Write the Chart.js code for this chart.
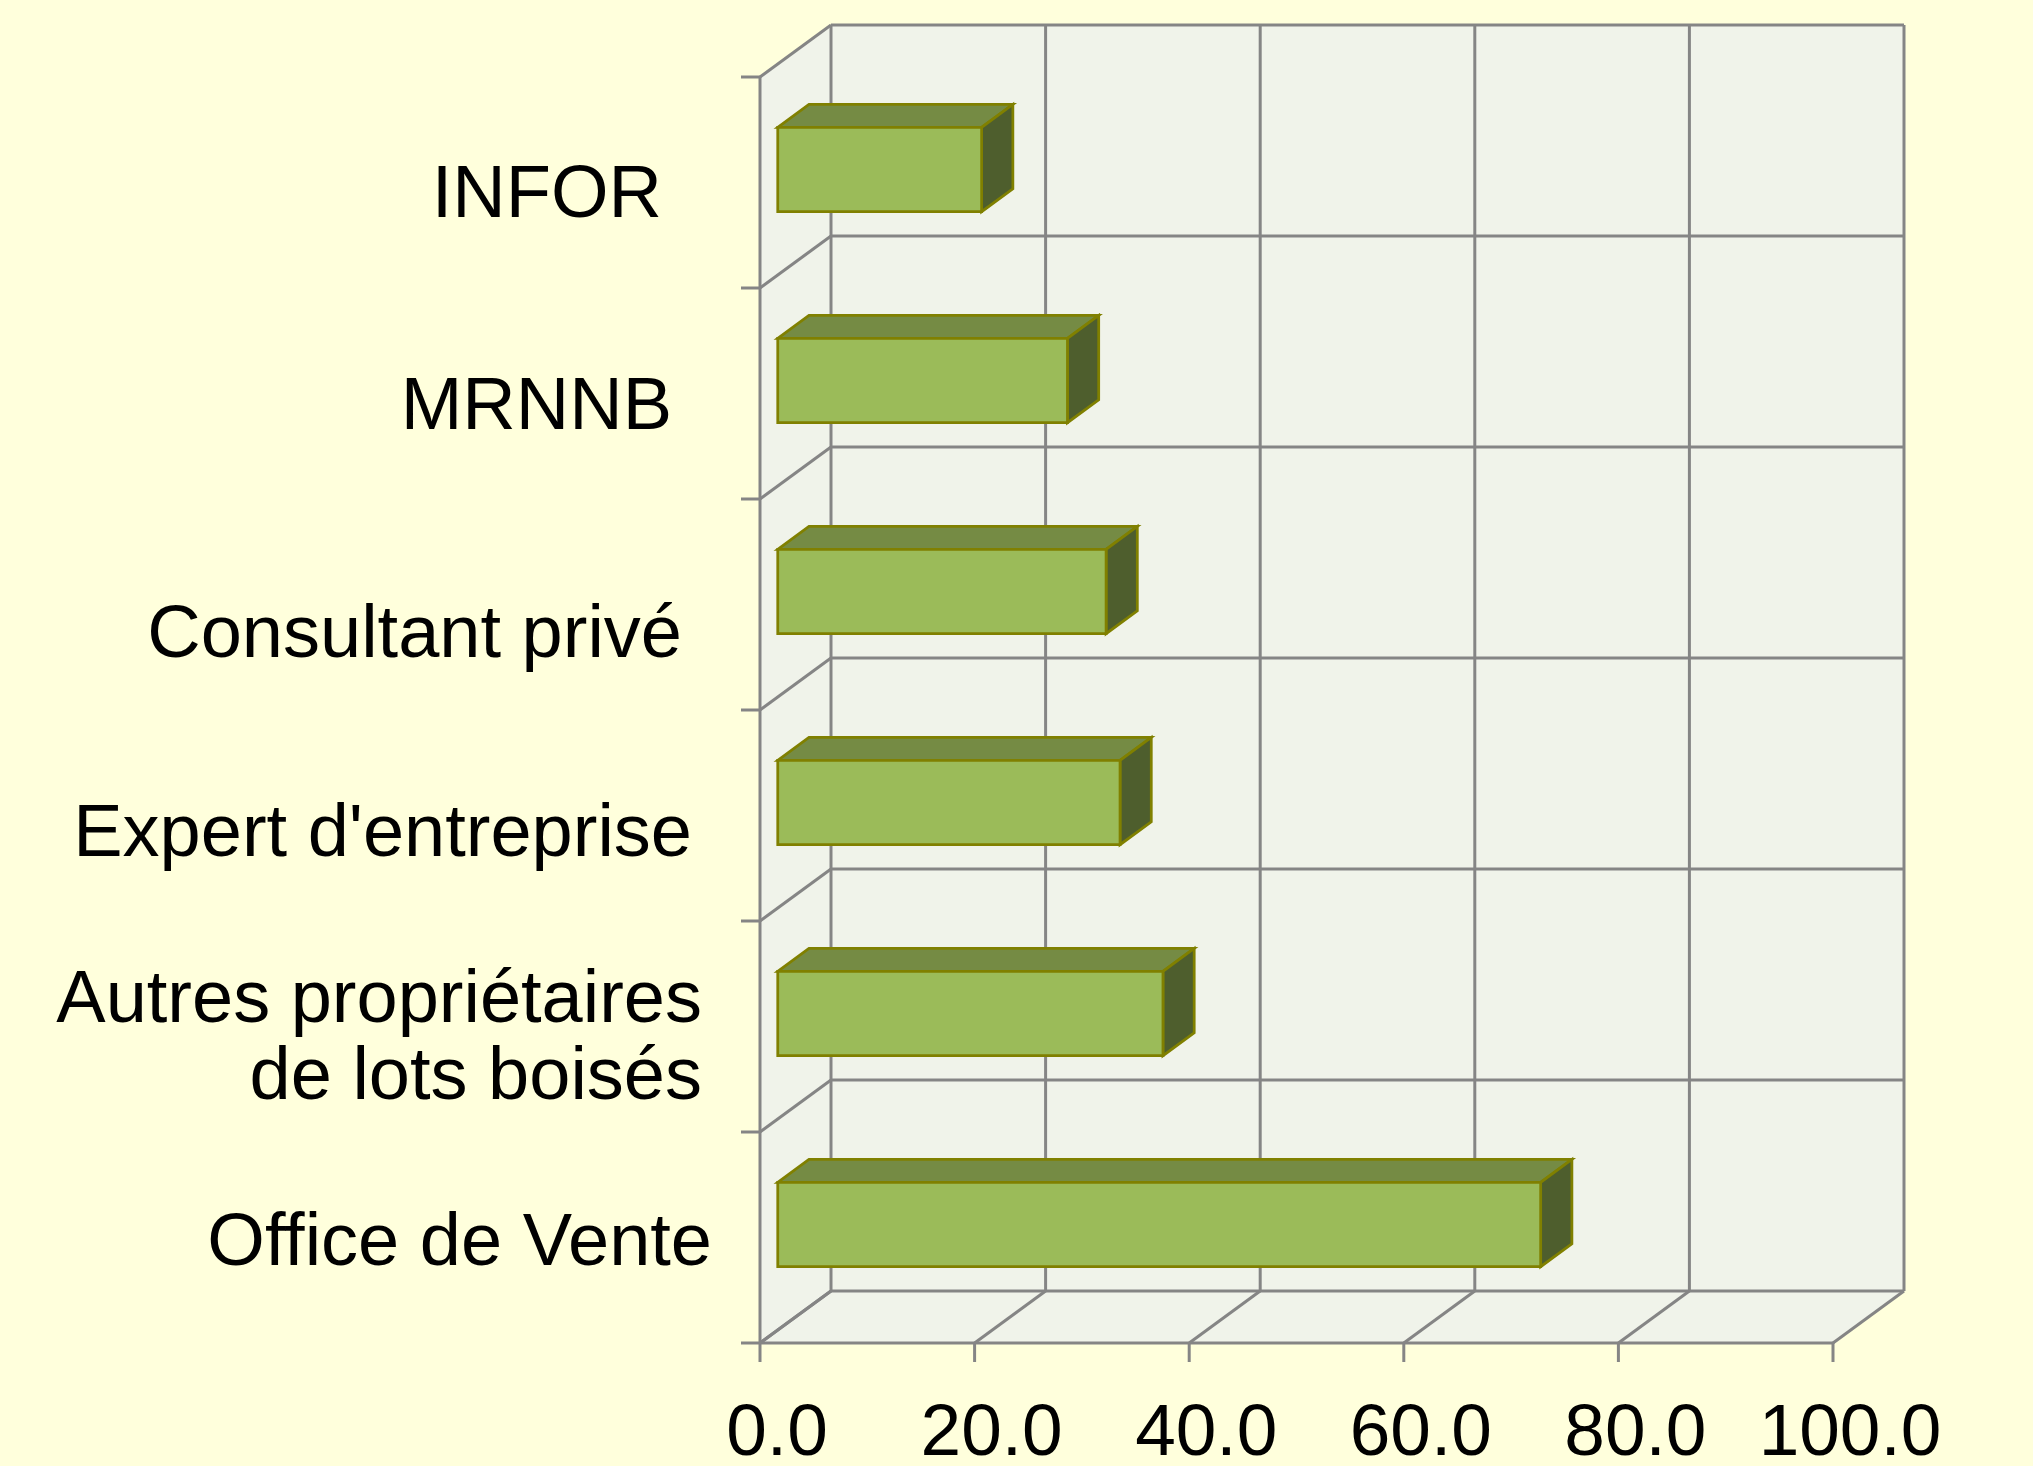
<!DOCTYPE html>
<html>
<head>
<meta charset="utf-8">
<title>Sources</title>
<script src="https://cdn.jsdelivr.net/npm/chart.js@4.4.1/dist/chart.umd.min.js"></script>
<style>
    html, body { margin: 0; padding: 0; background: #FFFFDC; }
    #wrap { width: 2033px; height: 1466px; }
</style>
</head>
<body>
<div id="wrap"><canvas id="sourceChart" width="2033" height="1466"></canvas></div>
<script>
// data
const categories = [
    "INFOR",
    "MRNNB",
    "Consultant privé",
    "Expert d'entreprise",
    ["Autres propriétaires", "de lots boisés"],
    "Office de Vente"
];
const percentValues = [19.0, 27.0, 30.6, 31.9, 35.9, 71.1];
const xTickValues = [0, 20, 40, 60, 80, 100];
const xTickLabels = ["0.0", "20.0", "40.0", "60.0", "80.0", "100.0"];

/* ==========================
   Look of the 3D box
========================== */
const FONT = "'Liberation Sans', Arial, sans-serif";
const WALL = "#F0F3EA";
const GRID = "#858585";
const BAR_FRONT = "#9BBB59";
const BAR_TOP = "#758B44";
const BAR_SIDE = "#4E5E2D";
const BAR_EDGE = "#808000";

const DX = 71, DY = -52;          // depth of the box
const BAR_Z = 0.25, BAR_DZ = 0.44; // where the bars sit in that depth
const labelNudge = [0, 1, 18, 6, 0, -7];

function poly(ctx, pts, fill, stroke) {
    ctx.beginPath();
    ctx.moveTo(pts[0][0], pts[0][1]);
    pts.slice(1).forEach(p => ctx.lineTo(p[0], p[1]));
    ctx.closePath();
    if (fill) { ctx.fillStyle = fill; ctx.fill(); }
    if (stroke) { ctx.strokeStyle = stroke; ctx.stroke(); }
}

function line(ctx, x1, y1, x2, y2) {
    ctx.beginPath();
    ctx.moveTo(x1, y1);
    ctx.lineTo(x2, y2);
    ctx.stroke();
}

const box3d = {
    id: "box3d",
    beforeDatasetsDraw(chart) {
        const { ctx, chartArea: a, scales: { x } } = chart;
        const bin = (a.bottom - a.top) / categories.length;
        ctx.save();

        // walls
        poly(ctx, [[a.left + DX, a.top + DY], [a.right + DX, a.top + DY],
                   [a.right + DX, a.bottom + DY], [a.left + DX, a.bottom + DY]], WALL);
        poly(ctx, [[a.left, a.top], [a.left + DX, a.top + DY],
                   [a.left + DX, a.bottom + DY], [a.left, a.bottom]], WALL);
        poly(ctx, [[a.left, a.bottom], [a.left + DX, a.bottom + DY],
                   [a.right + DX, a.bottom + DY], [a.right, a.bottom]], WALL);

        // grid
        ctx.strokeStyle = GRID;
        ctx.lineWidth = 3;
        xTickValues.forEach(v => {
            const px = x.getPixelForValue(v);
            line(ctx, px + DX, a.top + DY, px + DX, a.bottom + DY);
            line(ctx, px, a.bottom, px + DX, a.bottom + DY);
            line(ctx, px, a.bottom, px, a.bottom + 19);
        });
        for (let k = 0; k <= categories.length; k++) {
            const yb = a.top + k * bin;
            line(ctx, a.left + DX, yb + DY, a.right + DX, yb + DY);
            line(ctx, a.left, yb, a.left + DX, yb + DY);
            line(ctx, a.left - 19, yb, a.left, yb);
        }
        line(ctx, a.left, a.top, a.left, a.bottom);
        line(ctx, a.left, a.bottom, a.right, a.bottom);
        ctx.restore();
    },
    afterDatasetsDraw(chart) {
        const { ctx } = chart;
        const fx = BAR_Z * DX, fy = BAR_Z * DY;
        const dx = BAR_DZ * DX, dy = BAR_DZ * DY;
        ctx.save();
        ctx.lineWidth = 2.75;
        ctx.lineJoin = "miter";
        chart.getDatasetMeta(0).data.forEach(bar => {
            const p = bar.getProps(["x", "y", "base", "height"], true);
            const l = p.base + fx, r = p.x + fx;
            const t = p.y - p.height / 2 + fy, b = p.y + p.height / 2 + fy;
            poly(ctx, [[l, t], [l + dx, t + dy], [r + dx, t + dy], [r, t]], BAR_TOP, BAR_EDGE);
            poly(ctx, [[r, t], [r + dx, t + dy], [r + dx, b + dy], [r, b]], BAR_SIDE, BAR_EDGE);
            poly(ctx, [[l, t], [r, t], [r, b], [l, b]], BAR_FRONT, BAR_EDGE);
        });
        ctx.restore();
    },
    afterDraw(chart) {
        // category labels, right edges follow the slant of the box
        const { ctx, chartArea: a, scales: { y } } = chart;
        ctx.save();
        ctx.font = "74px " + FONT;
        ctx.fillStyle = "#000";
        ctx.textAlign = "right";
        ctx.textBaseline = "alphabetic";
        categories.forEach((label, i) => {
            const lines = Array.isArray(label) ? label : [label];
            const yc = y.getPixelForValue(i) + labelNudge[i];
            const rightX = a.left - 98 + i * 10;
            lines.forEach((txt, j) => {
                ctx.fillText(txt, rightX, yc + 34 + (j - (lines.length - 1) / 2) * 77);
            });
        });
        ctx.restore();
    }
};

new Chart(document.getElementById("sourceChart"), {
    type: "bar",
    data: {
        labels: categories,
        datasets: [{
            data: percentValues,
            backgroundColor: "rgba(0,0,0,0)",
            borderWidth: 0,
            barPercentage: 0.4,
            categoryPercentage: 1
        }]
    },
    options: {
        indexAxis: "y",
        responsive: false,
        animation: false,
        events: [],
        layout: { padding: { left: 760, right: 200, top: 77, bottom: 0 } },
        scales: {
            x: {
                type: "linear",
                min: 0,
                max: 100,
                afterBuildTicks: s => { s.ticks = xTickValues.map(v => ({ value: v })); },
                afterFit: s => { s.height = 123; },
                ticks: {
                    font: { family: FONT, size: 73 },
                    color: "#000",
                    padding: 48,
                    labelOffset: 17,
                    maxRotation: 0,
                    autoSkip: false,
                    callback: v => xTickLabels[xTickValues.indexOf(v)]
                },
                grid: { display: false, drawTicks: false },
                border: { display: false }
            },
            y: {
                display: false,
                offset: true
            }
        },
        plugins: {
            legend: { display: false },
            tooltip: { enabled: false }
        }
    },
    plugins: [box3d]
});
</script>
</body>
</html>
